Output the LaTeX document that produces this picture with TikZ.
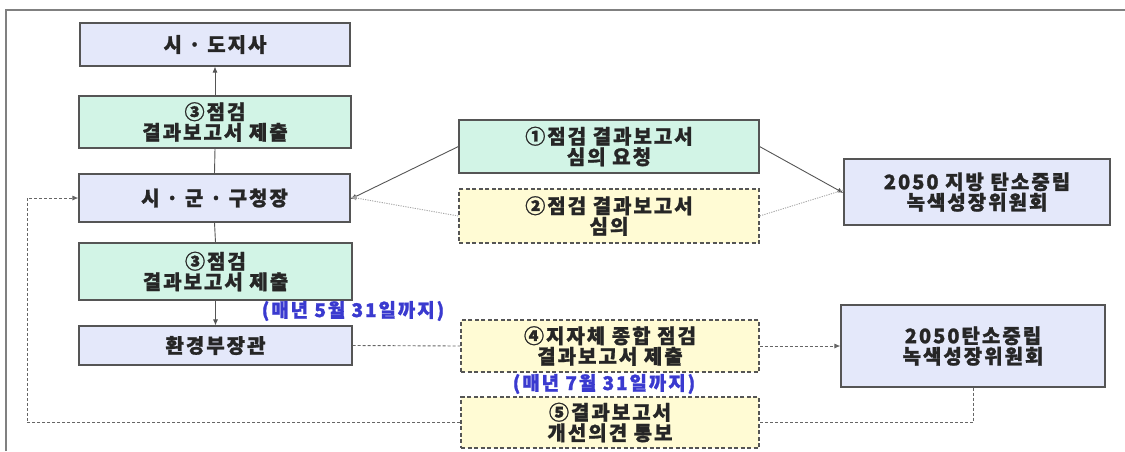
\documentclass[tikz,border=0pt]{standalone}
\usepackage{fontspec}
\setmainfont{Noto Sans CJK KR}[LetterSpace=10, BoldFeatures={FakeBold=1.2}]
\usetikzlibrary{arrows.meta}
\definecolor{lav}{HTML}{E4E8FA}
\definecolor{mint}{HTML}{D2F4E6}
\definecolor{ylw}{HTML}{FFFBD4}
\definecolor{edge}{HTML}{555555}
\definecolor{bluetxt}{HTML}{3A3ACF}
\tikzset{
  basebox/.style={draw=edge, line width=1.1pt, align=center, inner sep=0pt,
    font=\fontsize{20}{20.5}\selectfont\bfseries, text=black!85},
  lavbox/.style={basebox, fill=lav},
  greenbox/.style={basebox, fill=mint},
  yelbox/.style={basebox, fill=ylw, dashed, dash pattern=on 4pt off 2.5pt},
  conn/.style={draw=edge, line width=0.9pt},
  arr/.style={-{Latex[length=6pt,width=5pt]}},
  dashconn/.style={draw=edge!90, line width=0.9pt, dash pattern=on 3pt off 2pt},
  dotconn/.style={draw=gray!70, line width=0.9pt, dash pattern=on 1.2pt off 1.2pt},
  bluelabel/.style={font=\fontsize{19}{20}\selectfont\bfseries, text=bluetxt, inner sep=0pt}
}
\begin{document}
\begin{tikzpicture}[x=1pt,y=-1pt]
\useasboundingbox (0,0) rectangle (1125,451);
\draw[draw=gray, line width=1.4pt] (6,451) -- (6,10) -- (1125,10);
% left column
\node[lavbox, minimum width=270pt, minimum height=43pt] (sido) at (215,44.5) {시 · 도지사};
\node[greenbox, minimum width=272pt, minimum height=52pt] (g1) at (215,122) {③점검\\결과보고서 제출};
\node[lavbox, minimum width=271pt, minimum height=48pt] (sgg) at (214.5,198) {시 · 군 · 구청장};
\node[greenbox, minimum width=273pt, minimum height=57pt] (g2) at (215.5,271.5) {③점검\\결과보고서 제출};
\node[lavbox, minimum width=273pt, minimum height=39pt] (env) at (215.5,345.5) {환경부장관};
% middle column
\node[greenbox, minimum width=300pt, minimum height=53pt] (r1) at (609,146.5) {①점검 결과보고서\\심의 요청};
\node[yelbox, minimum width=300pt, minimum height=54pt] (r2) at (609,216) {②점검 결과보고서\\심의};
\node[yelbox, minimum width=298pt, minimum height=52pt] (r4) at (610,346) {④지자체 종합 점검\\결과보고서 제출};
\node[yelbox, minimum width=298pt, minimum height=51pt] (r5) at (610,422.5) {⑤결과보고서\\개선의견 통보};
% right column
\node[lavbox, minimum width=266pt, minimum height=66pt] (loc) at (977,192) {2050 지방 탄소중립\\녹색성장위원회};
\node[lavbox, minimum width=264pt, minimum height=82pt] (nat) at (973,346) {2050탄소중립\\녹색성장위원회};
% labels
\node[bluelabel] (d1) at (353,311) {(매년 5월 31일까지)};
\node[bluelabel] (d2) at (604,384) {(매년 7월 31일까지)};
% connectors
\draw[conn] (sgg.north) -- (g1.south);
\draw[conn, arr] (g1.north) -- (sido.south);
\draw[conn] (sgg.south) -- (g2.north);
\draw[conn, arr] (g2.south) -- (env.north);
\draw[conn, arr] (r1.west) -- ([yshift=-1pt]sgg.east);
\draw[conn, arr] (r1.east) -- ([yshift=-1pt]loc.west);
\draw[dotconn] ([yshift=2pt]loc.west) -- (r2.east);
\draw[dotconn, arr] (r2.west) -- ([yshift=1pt]sgg.east);
\draw[dashconn] (env.east) -- (r4.west);
\draw[dashconn, arr] (r4.east) -- (nat.west);
\coordinate (c1) at (27,422.5);
\draw[dashconn] (nat.south) |- (r5.east);
\draw[dashconn, arr] (r5.west) -- (c1) |- (sgg.west);
\end{tikzpicture}
\end{document}
